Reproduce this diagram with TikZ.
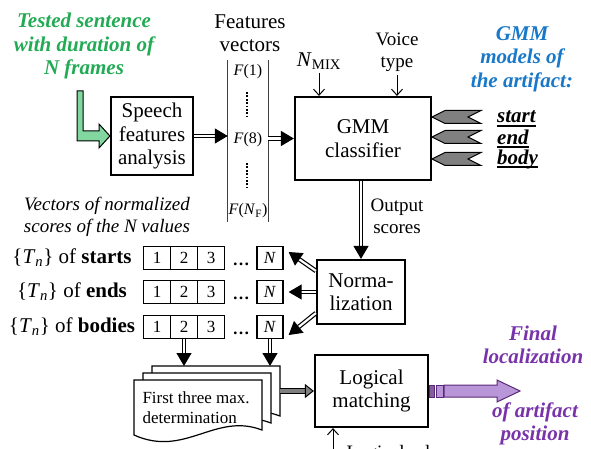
\documentclass[tikz,border=0pt]{standalone}
\usepackage{fontspec}
\setmainfont{Liberation Serif}
\usetikzlibrary{arrows.meta,calc}

\definecolor{sentgreen}{RGB}{35,170,85}
\definecolor{arrowgreen}{RGB}{130,215,160}
\definecolor{modelblue}{RGB}{25,120,200}
\definecolor{chevgray}{RGB}{128,128,128}
\definecolor{finalpurple}{RGB}{120,50,170}
\definecolor{finalfill}{RGB}{185,150,215}
\definecolor{finaldark}{RGB}{90,40,120}

\newcommand\bigtxt{\fontsize{21}{23.5}\selectfont}
\newcommand\midtxt{\fontsize{19}{22}\selectfont}
\newcommand\smalltxt{\fontsize{17}{20}\selectfont}
\newcommand\tinytxt{\fontsize{16}{18}\selectfont}

\begin{document}
\begin{tikzpicture}[x=1pt,y=-1pt,
    box/.style={draw, line width=2.2pt, align=center, inner sep=0pt, font=\bigtxt},
    cell/.style={draw, line width=1.3pt, minimum width=27pt, minimum height=23pt, inner sep=0pt, font=\smalltxt},
    dbl/.style={double, double distance=2.2pt, line width=1.2pt, -{Triangle[length=13pt,width=15pt]}},
    thin arr/.style={line width=1pt, -{Straight Barb[length=6pt,width=11pt]}},
    vdots/.style={line width=2.2pt, dash pattern=on 1.8pt off 1.6pt},
  ]
  \useasboundingbox (0,0) rectangle (591,449);

  % input and feature extraction
  \node[font=\bigtxt\bfseries\itshape, text=sentgreen, align=center] (sentence) at (84,46) {Tested sentence\\with duration of\\N frames};
  \node[box, minimum width=82pt, minimum height=78pt] (speech) at (152,136) {Speech\\features\\analysis};
  \draw[line width=1pt, fill=arrowgreen, line join=miter] (77,91) -- (83,91) -- (83,131) -- (99,131) -- (99,124) -- (speech.west) -- (99,148) -- (99,141) -- (77,141) -- cycle;

  \node[font=\bigtxt, align=center] (fvlabel) at (250,33) {Features\\vectors};
  \node[minimum width=40pt, minimum height=162pt, inner sep=0pt] (fvec) at (248,141) {};
  \draw[line width=1pt, black!75] (fvec.north west) -- (fvec.south west) (fvec.north east) -- (fvec.south east);
  \node[font=\tinytxt] (f1) at (248,72) {\textit{F}(1)};
  \node[font=\tinytxt] (f8) at (248,140) {\textit{F}(8)};
  \node[font=\tinytxt] (fn) at (248,211) {\textit{F}(\textit{N}\textsubscript{F})};
  \draw[vdots] (247,92) -- (247,116);
  \draw[vdots] (247,163) -- (247,187);
  \draw[dbl] (speech.east) -- (speech.east -| fvec.west);

  % classifier
  \node[box, minimum width=136pt, minimum height=83pt] (gmm) at (363,138.5) {GMM\\classifier};
  \draw[dbl] (fvec.east |- gmm.west) -- (gmm.west);
  \node[font=\bigtxt] (nmix) at (319,61) {\textit{N}\textsubscript{MIX}};
  \draw[thin arr] (nmix.south) -- (nmix.south |- gmm.north);
  \node[font=\midtxt, align=center] (voice) at (397,52) {Voice\\type};
  \draw[thin arr] (voice.south) -- (voice.south |- gmm.north);

  \node[font=\bigtxt\bfseries\itshape, text=modelblue, align=center] (models) at (522,59) {GMM\\models of\\the artifact:};
  \foreach \y/\name in {117/start, 137/end, 159/body} {
    \draw[line width=1pt, fill=chevgray] (gmm.east |- 0,\y) -- ++(13,-6.5) -- ++(36,0) -- ++(-13,6.5) -- ++(13,6.5) -- ++(-36,0) -- cycle;
    \node[font=\bigtxt\bfseries\itshape, anchor=west, inner sep=0pt] (m\name) at (497,\y) {\name};
    \draw[line width=1.6pt] ($(m\name.base west)+(0,3)$) -- ($(m\name.base east)+(0,3)$);
  }

  % normalization
  \node[box, minimum width=88pt, minimum height=64pt] (norm) at (361,292) {Norma-\\lization};
  \draw[dbl] (gmm.south -| norm.north) -- (norm.north);
  \node[font=\midtxt, align=center] (outlbl) at (397,216) {Output\\scores};

  \node[font=\midtxt\itshape, align=center] (veclbl) at (107,217) {Vectors of normalized\\scores of the \textit{N} values};
  \foreach \row/\y/\what in {1/258/starts, 2/292/ends, 3/327/bodies} {
    \node[font=\bigtxt] (rowlbl\row) at (72,\y) {\{\textit{T}\textsubscript{\textit{n}}\} of \textbf{\what}};
    \foreach \k/\x in {1/157, 2/184, 3/211}
      \node[cell] (c\row\k) at (\x,\y) {\k};
    \node[font=\smalltxt\bfseries, anchor=base] (dots\row) at (241,\y+7) {\dots};
    \node[cell, minimum width=26pt] (n\row) at (270,\y) {\textit{N}};
  }
  \draw[dbl] ($(norm.north west)+(0,12)$) -- ($(n1.east)+(5,-6)$);
  \draw[dbl] (norm.west) -- ($(n2.east)+(5,0)$);
  \draw[dbl] ($(norm.south west)+(0,-12)$) -- ($(n3.east)+(5,8)$);

  % maxima search and matching
  \foreach \dx/\dy in {18/-14, 9/-7, 0/0}
    \draw[line width=1.2pt, fill=white, shift={(\dx,\dy)}] (134,380) -- (262,380) -- (262,430) .. controls (215,412) and (185,458) .. (134,435) -- cycle;
  \node[font=\smalltxt, align=left, anchor=west] (firstmax) at (139,408) {First three max.\\determination};
  \coordinate (stacktop) at (0,366);
  \coordinate (stackeast) at (280,391);
  \draw[dbl] (c32.south) -- (c32.south |- stacktop);
  \draw[dbl] (n3.south) -- (n3.south |- stacktop);

  \node[box, minimum width=113pt, minimum height=72pt] (logic) at (371.5,391) {Logical\\matching};
  \draw[double=chevgray, double distance=4pt, line width=1pt, -{Triangle[length=9pt,width=14pt,fill=chevgray]}] (stackeast) -- (logic.west);
  \node[font=\midtxt, anchor=west] (rules) at (343,454) {Logical rules};
  \coordinate (rulesin) at (333,470);
  \draw[thin arr] (rulesin) -- (rulesin |- logic.south);

  % result
  \coordinate (finalpos) at (520,391);
  \draw[line width=0.8pt, draw=finaldark, fill=finaldark!75] ($(logic.east)+(0,-6)$) rectangle ++(5,12);
  \draw[line width=0.8pt, draw=finaldark, fill=finalfill] ($(logic.east)+(7,-6)$) rectangle ++(7,12);
  \draw[line width=1pt, draw=finaldark, fill=finalfill] ($(logic.east)+(15,-6)$) -- ($(finalpos)+(-23,-6)$) -- ($(finalpos)+(-23,-11)$) -- (finalpos) -- ($(finalpos)+(-23,11)$) -- ($(finalpos)+(-23,6)$) -- ($(logic.east)+(15,6)$) -- cycle;
  \node[font=\bigtxt\bfseries\itshape, text=finalpurple, align=center] (final) at (533,345) {Final\\localization};
  \node[font=\bigtxt\bfseries\itshape, text=finalpurple, align=center] (artpos) at (535,424) {of artifact\\position};
\end{tikzpicture}
\end{document}
